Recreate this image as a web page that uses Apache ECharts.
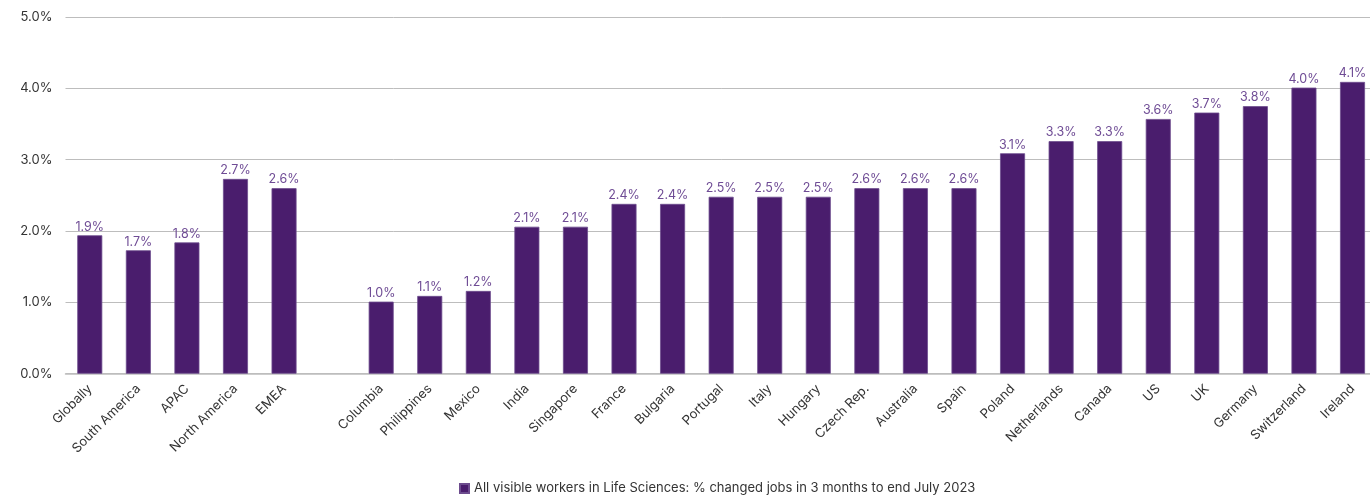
<!DOCTYPE html>
<html>
<head>
<meta charset="utf-8">
<title>Life Sciences job changes</title>
<script src="https://cdn.jsdelivr.net/npm/echarts@6/dist/echarts.min.js"></script>
<style>
  html, body { margin: 0; padding: 0; background: #ffffff; overflow: hidden; }
  #chart { width: 1380px; height: 495px; }
</style>
</head>
<body>
<div id="chart"></div>
<script>
// Regions first, then a spacer slot, then countries in ascending order
const categories = [
  'Globally', 'South America', 'APAC', 'North America', 'EMEA', '',
  'Columbia', 'Philippines', 'Mexico', 'India', 'Singapore', 'France',
  'Bulgaria', 'Portugal', 'Italy', 'Hungary', 'Czech Rep.', 'Australia',
  'Spain', 'Poland', 'Netherlands', 'Canada', 'US', 'UK', 'Germany',
  'Switzerland', 'Ireland'
];

// Share of visible workers who changed jobs (%)
const changedJobs = [
  1.94, 1.73, 1.84, 2.73, 2.60, null,
  1.01, 1.09, 1.16, 2.06, 2.06, 2.38,
  2.38, 2.48, 2.48, 2.48, 2.60, 2.60,
  2.60, 3.09, 3.26, 3.26, 3.57, 3.66, 3.75,
  4.01, 4.09
];

const seriesName = 'All visible workers in Life Sciences: % changed jobs in 3 months to end July 2023';

const yMin = 0;
const yMax = 5;
const yStep = 1;

const chart = echarts.init(document.getElementById('chart'), null, { renderer: 'canvas' });

chart.setOption({
  animation: false,
  backgroundColor: '#ffffff',
  textStyle: { fontFamily: 'Inter, "Noto Sans", sans-serif' },
  grid: {
    left: 65.5,
    right: 3.2,
    top: 17,
    bottom: 121.3,
    containLabel: false
  },
  legend: {
    show: true,
    top: 477,
    left: 454,
    itemWidth: 9,
    itemHeight: 9,
    itemGap: 10,
    icon: 'rect',
    textStyle: { color: '#333333', fontSize: 13, fontFamily: 'Inter, sans-serif' },
    data: [seriesName]
  },
  xAxis: {
    type: 'category',
    data: categories,
    axisTick: { show: false },
    axisLine: { show: true, lineStyle: { color: '#bdbdbd', width: 1.5 } },
    axisLabel: {
      rotate: 45,
      interval: 0,
      margin: 13,
      color: '#333333',
      fontSize: 13,
      fontFamily: 'Inter, sans-serif'
    }
  },
  yAxis: {
    type: 'value',
    min: yMin,
    max: yMax,
    interval: yStep,
    axisLine: { show: false },
    axisTick: { show: false },
    splitLine: { lineStyle: { color: '#bdbdbd', width: 1 } },
    axisLabel: {
      margin: 13,
      color: '#333333',
      fontSize: 13,
      fontFamily: 'Inter, sans-serif',
      formatter: v => v.toFixed(1) + '%'
    }
  },
  series: [{
    name: seriesName,
    type: 'bar',
    data: changedJobs,
    barWidth: 25,
    itemStyle: {
      color: '#4a1d6d',
      borderColor: '#6d4c8e',
      borderWidth: 0.8
    },
    label: {
      show: true,
      position: 'top',
      distance: 2,
      color: '#6f4c95',
      fontSize: 12.5,
      fontFamily: 'Inter, sans-serif',
      formatter: p => (p.value == null ? '' : p.value.toFixed(1) + '%')
    }
  }]
});
</script>
</body>
</html>
